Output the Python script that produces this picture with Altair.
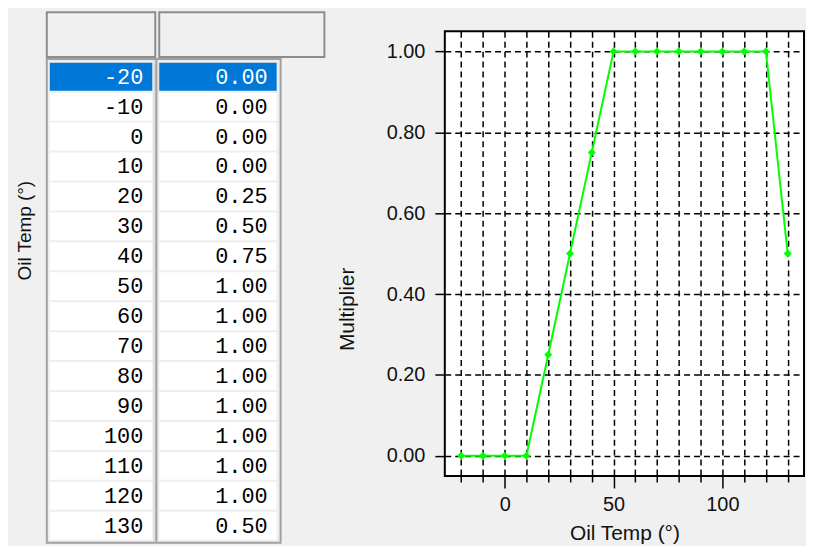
import altair as alt
import pandas as pd

oil_temps = [-20, -10, 0, 10, 20, 30, 40, 50, 60, 70, 80, 90, 100, 110, 120, 130]
multipliers = [0.00, 0.00, 0.00, 0.00, 0.25, 0.50, 0.75, 1.00, 1.00, 1.00,
               1.00, 1.00, 1.00, 1.00, 1.00, 0.50]
y_ticks = [0.0, 0.2, 0.4, 0.6, 0.8, 1.0]
selected_row = 0

FONT = "Liberation Sans"
MONO = "Liberation Mono"
BG = "#f0f0f0"
GREEN = "#00ff00"
SEL = "#0078d7"
TXT = "#111111"

df = pd.DataFrame({"temp": oil_temps, "mult": multipliers})
df["row"] = list(range(len(df)))
df["row_end"] = df["row"] + 1
df["row_mid"] = df["row"] + 0.5
df["temp_label"] = [str(t) for t in oil_temps]
df["mult_label"] = [f"{m:.2f}" for m in multipliers]
df["sel"] = ["yes" if i == selected_row else "no" for i in df["row"]]

one = pd.DataFrame({"k": [0]})

# ---------------- table panel ----------------
TW, TH = 279, 514
row_scale = alt.Scale(domain=[-1.02, 16.066], reverse=True, nice=False, zero=False)
table_axis = alt.Axis(title="Oil Temp (°)", labels=False, ticks=False, domain=False,
                      grid=False, titleFont=FONT, titleFontSize=19,
                      titleFontWeight="normal", titleColor=TXT, titlePadding=12,
                      titleY=200)


def deco(x0, x1, y0, y1, fill, stroke=None, sw=0):
    kw = dict(fill=fill)
    if stroke:
        kw.update(stroke=stroke, strokeWidth=sw)
    return alt.Chart(one).mark_rect(**kw).encode(
        x=alt.value(x0), x2=alt.value(x1), y=alt.value(y0), y2=alt.value(y1))


container = deco(0, 235, 28, 514, "#eeeeee", "#a0a0a0", 2)
divider_a = deco(107, 112, 29, 513, "#dedede")
divider_b = deco(109, 111, 29, 513, "#a4a4a4")
header1 = deco(0, 109, -19, 26, BG, "#8c8c8c", 2)
header2 = deco(113, 279, -19, 26, BG, "#8c8c8c", 2)

base = alt.Chart(df)
fill_enc = alt.condition("datum.sel == 'yes'", alt.value(SEL), alt.value("white"))
text_col = alt.condition("datum.sel == 'yes'", alt.value("white"), alt.value("black"))

cells1 = base.mark_rect(yOffset=1, y2Offset=-1).encode(
    x=alt.value(3), x2=alt.value(106),
    y=alt.Y("row:Q", scale=row_scale, axis=table_axis), y2="row_end:Q",
    fill=fill_enc)
cells2 = base.mark_rect(yOffset=1, y2Offset=-1).encode(
    x=alt.value(113), x2=alt.value(231),
    y=alt.Y("row:Q", scale=row_scale, axis=table_axis), y2="row_end:Q",
    fill=fill_enc)
text1 = base.mark_text(align="right", baseline="middle", font=MONO, fontSize=22).encode(
    x=alt.value(97), y=alt.Y("row_mid:Q", scale=row_scale, axis=table_axis),
    text="temp_label:N", color=text_col)
text2 = base.mark_text(align="right", baseline="middle", font=MONO, fontSize=22).encode(
    x=alt.value(222), y=alt.Y("row_mid:Q", scale=row_scale, axis=table_axis),
    text="mult_label:N", color=text_col)

table = alt.layer(container, divider_a, divider_b, cells1, cells2, text1, text2,
                  header1, header2).properties(width=TW, height=TH)

# ---------------- chart panel ----------------
xs = alt.Scale(domain=[-27.5, 137.5], nice=False, zero=False)
ys = alt.Scale(domain=[-0.05, 1.05], nice=False, zero=False)

x_axis = alt.Axis(
    values=oil_temps, grid=True, gridColor="black", gridDash=[6, 4], gridWidth=1.5,
    domain=False, tickColor="black", tickWidth=1.5,
    tickSize={"condition": {"test": "datum.value % 50 === 0", "value": 12}, "value": 6},
    labelExpr="datum.value % 50 === 0 ? datum.label : ''",
    labelOverlap=False, labelFlush=False,
    labelFont=FONT, labelFontSize=20, labelColor=TXT, labelPadding=7,
    title="Oil Temp (°)", titleFont=FONT, titleFontSize=21, titleFontWeight="normal",
    titleColor=TXT, titlePadding=8)
y_axis = alt.Axis(
    values=y_ticks, format=".2f", grid=True, gridColor="black", gridDash=[6, 4],
    gridWidth=1.5, domain=False, tickColor="black", tickWidth=1.5, tickSize=10,
    labelPadding=10, labelFont=FONT, labelFontSize=20, labelColor=TXT,
    labelOverlap=False, labelFlush=False,
    title="Multiplier", titleFont=FONT, titleFontSize=21, titleFontWeight="normal",
    titleColor=TXT, titlePadding=29, titleY=279)

line = alt.Chart(df).mark_line(color=GREEN, strokeWidth=2).encode(
    x=alt.X("temp:Q", scale=xs, axis=x_axis),
    y=alt.Y("mult:Q", scale=ys, axis=y_axis))
pts = alt.Chart(df).mark_point(shape="diamond", filled=True, color=GREEN,
                               size=65, opacity=1).encode(
    x=alt.X("temp:Q", scale=xs, axis=x_axis),
    y=alt.Y("mult:Q", scale=ys, axis=y_axis))

plot = alt.layer(line, pts).properties(
    width=361, height=447,
    view=alt.ViewBackground(stroke="black", strokeWidth=2, fill="white"))

chart = alt.hconcat(table, plot, spacing=9).configure(
    background=BG, font=FONT,
    padding={"left": 7, "top": 1, "right": 1, "bottom": 0}
).configure_view(stroke="transparent")

chart.save("out.html", embed_options={"renderer": "svg", "actions": False})
